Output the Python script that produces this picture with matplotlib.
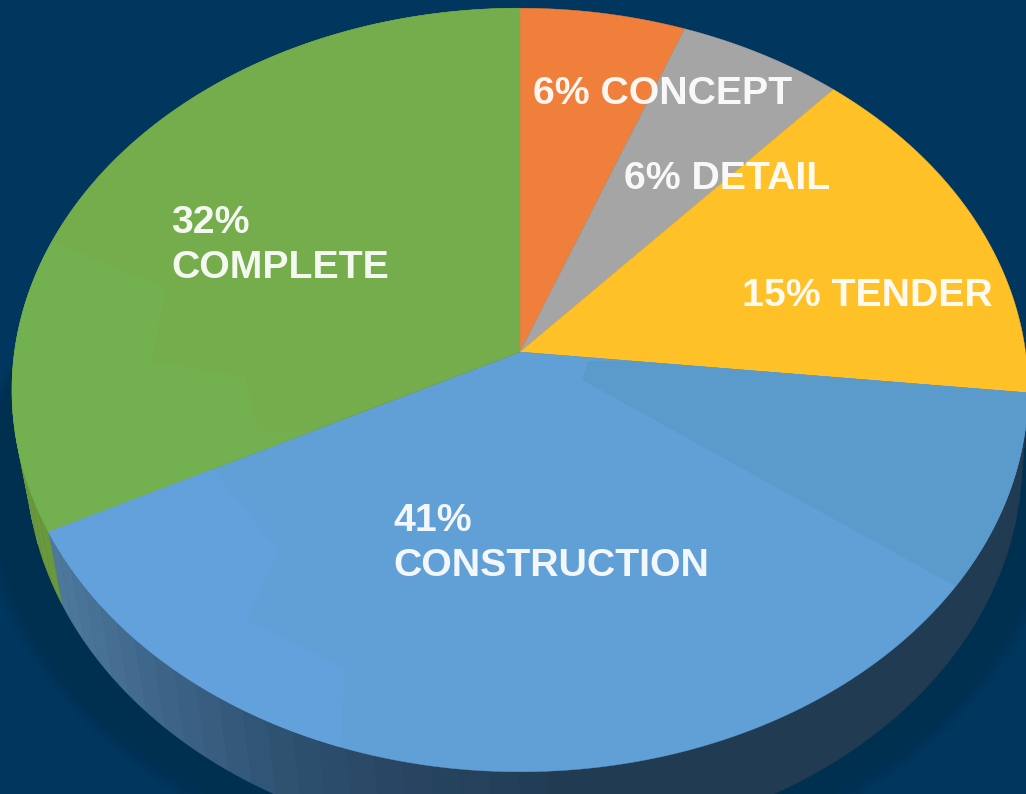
import numpy as np
import matplotlib
matplotlib.use("Agg")
import matplotlib.pyplot as plt
from matplotlib.colors import LinearSegmentedColormap
from matplotlib.patches import Polygon

categories = ["CONCEPT", "DETAIL", "TENDER", "CONSTRUCTION", "COMPLETE"]
values = [5.8, 5.8, 15.1, 40.8, 32.5]
labels = ["6% CONCEPT", "6% DETAIL", "15% TENDER", "41%\nCONSTRUCTION", "32%\nCOMPLETE"]
colors = ["#EF7F3A", "#A5A5A5", "#FFC028", "#61A0D6", "#75AD4C"]

BG = "#01375F"
W, H = 1026, 794
APEX = (520.0, 352.0)
A, B, K = 505.5, 378.0, 0.0995


def project(theta, sx=1.0, sy=1.0, dx=0.0, dy=0.0):
    """Perspective view of a unit circle; theta in degrees clockwise from 12 o'clock."""
    t = np.radians(theta)
    u, v = np.sin(t), np.cos(t)
    den = 1 + K * v
    return APEX[0] + dx + sx * A * u / den, APEX[1] + dy - sy * B * v / den


def arc(start, end, **kw):
    n = max(int(abs(end - start) * 2), 2)
    return project(np.linspace(start, end, n), **kw)


fig = plt.figure(figsize=(W / 100, H / 100), dpi=100, facecolor=BG)
ax = fig.add_axes([0, 0, 1, 1])
ax.set_xlim(0, W)
ax.set_ylim(H, 0)
ax.axis("off")

# soft ground shadow
for i, shade in enumerate(["#01365C", "#013358", "#003154", "#003050"]):
    x, y = arc(0, 360, sx=1.065 - i * 0.008, sy=1.035 - i * 0.008, dy=102 - i * 3)
    ax.fill(x, y, color=shade, lw=0, zorder=1)

edges = np.concatenate([[0], np.cumsum(values)]) * 3.6
side_cmap = LinearSegmentedColormap.from_list(
    "side", [(0.0, "#5682A6"), (0.14, "#40688C"), (0.27, "#2F5272"),
             (0.40, "#284561"), (0.55, "#213B53"), (1.0, "#213B53")])
side = dict(sx=0.98, sy=1.01, dx=4, dy=70)

# extruded rim, in narrow strips
for idx, (a0, a1) in enumerate(zip(edges[:-1], edges[1:])):
    steps = np.arange(a0, a1, 3.0).tolist() + [a1]
    for s0, s1 in zip(steps[:-1], steps[1:]):
        tx, ty = arc(s0, s1)
        bx, by = arc(s1, s0, **side)
        cx = (tx.mean() + bx.mean()) / 2
        col = "#6A983C" if categories[idx] == "COMPLETE" else side_cmap(cx / W)
        ax.fill(np.r_[tx, bx], np.r_[ty, by], color=col, lw=0.4, zorder=2)

# top faces
faces = {}
for name, col, a0, a1 in zip(categories, colors, edges[:-1], edges[1:]):
    x, y = arc(a0, a1)
    poly = ax.fill(np.r_[APEX[0], x], np.r_[APEX[1], y], color=col, lw=0.3, zorder=3)[0]
    faces[name] = poly

# faint facets of the surface shading, kept inside their slices
facets = [
    ("COMPLETE", "#73B050", [(57, 243), (166, 288), (152, 361), (245, 377), (258, 431),
                             (340, 431), (0, 560), (0, 243)]),
    ("CONSTRUCTION", "#62A1DC", [(213, 470), (278, 550), (247, 620), (345, 668),
                                 (338, 794), (0, 794), (0, 470)]),
    ("CONSTRUCTION", "#5A9BCC", [(588, 361), (582, 380), (953, 585), (1026, 585), (1026, 361)]),
]
for name, col, pts in facets:
    p = Polygon(pts, closed=True, facecolor=col, edgecolor="none", zorder=4)
    ax.add_patch(p)
    p.set_clip_path(faces[name].get_path(), faces[name].get_transform())

# labels
anchors = [(533, 104), (624, 189), (742, 306), (393, 576), (171, 278)]
for text, (lx, ly) in zip(labels, anchors):
    ax.text(lx, ly, text, color="#FFFFFF", alpha=0.93, fontsize=28.3, fontweight="bold",
            family="Liberation Sans", ha="left", va="baseline", linespacing=1.31, zorder=6)

fig.savefig("out.png", dpi=100, facecolor=BG)
